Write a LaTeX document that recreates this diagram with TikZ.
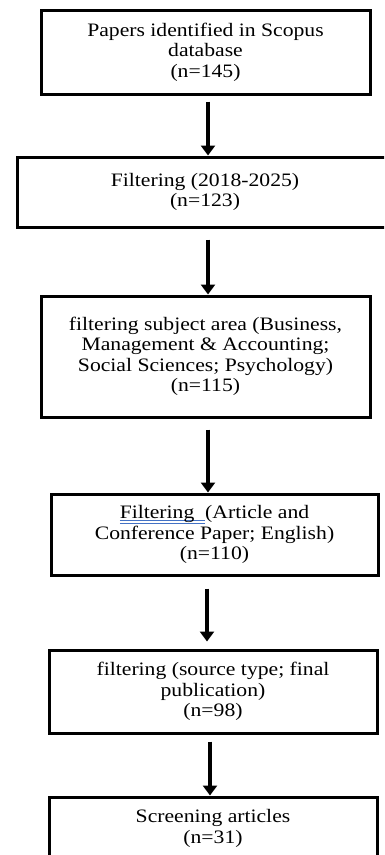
\documentclass[tikz,border=0pt]{standalone}
\usepackage{fontspec}
\setmainfont{Liberation Serif}[FakeStretch=1.14]
\usepackage{xcolor}
\usepackage{tikz}
\usetikzlibrary{arrows.meta,positioning,calc}

\definecolor{gramblue}{RGB}{68,114,196}
% word-processor style double underline
\newcommand{\gramline}[1]{\setbox0\hbox{#1}%
  \rlap{\color{gramblue}\rule[-1.9pt]{\wd0}{0.8pt}}%
  \rlap{\color{gramblue}\rule[-4.9pt]{\wd0}{0.8pt}}\box0}

\begin{document}
\begin{tikzpicture}[
  x=1pt, y=-1pt,
  stage/.style={draw, line width=3pt, fill=white, inner sep=0pt, align=center,
    font=\fontsize{19}{20.5}\selectfont},
  flow/.style={-{Triangle[width=14pt,length=10pt]}, line width=3.3pt}
]
  % Frame
  \clip (0,0) rectangle (384,855);
  \fill[white] (0,0) rectangle (384,855);

  % Stages
  \node[stage, minimum width=329pt, minimum height=84pt] (ident) at (205.5,52)
    {Papers identified in Scopus\\database\\(n=145)};
  \node[stage, minimum width=376pt, minimum height=70pt] (years) at (205,192)
    {Filtering (2018-2025)\\(n=123)};
  \node[stage, minimum width=329pt, minimum height=121pt] (subject) at (205.5,356.5)
    {filtering subject area (Business,\\Management \& Accounting;\\Social Sciences; Psychology)\\(n=115)};
  \node[stage, minimum width=327pt, minimum height=81pt] (doctype) at (214.5,534.5)
    {\gramline{Filtering\ \ }(Article and\\Conference Paper; English)\\(n=110)};
  \node[stage, minimum width=328pt, minimum height=83pt] (source) at (213,691.5)
    {filtering (source type; final\\publication)\\(n=98)};
  \node[stage, minimum width=328pt, minimum height=63pt] (screen) at (213,828.5)
    {Screening articles\\(n=31)};

  % Arrows
  \draw[flow] ([xshift=2.5pt,yshift=-6pt]ident.south) -- ([xshift=2.5pt]ident.south |- years.north);
  \draw[flow] ([xshift=3pt,yshift=-11pt]years.south) -- ([xshift=3pt]years.south |- subject.north);
  \draw[flow] ([xshift=2.5pt,yshift=-11pt]subject.south) -- ([xshift=2.5pt]subject.south |- doctype.north);
  \draw[flow, shorten >=7pt] ([xshift=-7.5pt,yshift=-12pt]doctype.south) -- ([xshift=-7.5pt]doctype.south |- source.north);
  \draw[flow] ([xshift=-3pt,yshift=-7pt]source.south) -- ([xshift=-3pt]source.south |- screen.north);
\end{tikzpicture}
\end{document}
